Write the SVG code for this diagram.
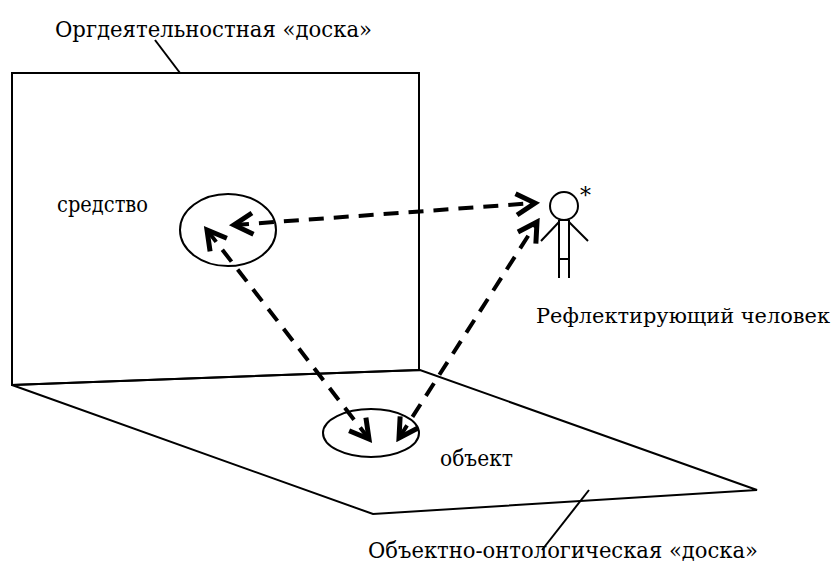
<svg xmlns="http://www.w3.org/2000/svg" width="837" height="567" viewBox="0 0 837 567">
<style>
.ln{fill:none;stroke:#000;stroke-width:2}
.lbl{font-family:'DejaVu Serif','Liberation Serif',serif;font-size:22px;fill:#000}
.dash{fill:none;stroke:#000;stroke-width:4;stroke-dasharray:15 10;marker-start:url(#ah);marker-end:url(#ah)}
</style>
<defs>
<marker id="ah" markerUnits="userSpaceOnUse" markerWidth="30" markerHeight="30" viewBox="-20 -12 24 24" refX="0" refY="0" orient="auto-start-reverse">
<path d="M-15,-8.5 L0,0 L-15,8.5" fill="none" stroke="#000" stroke-width="4" stroke-linejoin="miter"/>
</marker>
</defs>
<rect width="837" height="567" fill="#fff"/>
<g id="board-vertical">
<polygon class="ln" points="12,73 419,73 419,370 12,385"/>
<line class="ln" x1="155" y1="40" x2="180" y2="73"/>
<text class="lbl" x="55" y="37" textLength="317" lengthAdjust="spacingAndGlyphs">Оргдеятельностная «доска»</text>
</g>
<g id="board-horizontal">
<polygon class="ln" points="12,385 420,370 757,490 373,514"/>
<line class="ln" x1="542" y1="550" x2="589" y2="490"/>
<text class="lbl" x="368" y="558" textLength="390" lengthAdjust="spacingAndGlyphs">Объектно-онтологическая «доска»</text>
</g>
<g id="sredstvo">
<ellipse class="ln" cx="228" cy="230" rx="48" ry="36"/>
<text class="lbl" x="57" y="212" textLength="91" lengthAdjust="spacingAndGlyphs">средство</text>
</g>
<g id="obekt">
<ellipse class="ln" cx="371" cy="433" rx="48" ry="24"/>
<text class="lbl" x="440" y="466" textLength="73" lengthAdjust="spacingAndGlyphs">объект</text>
</g>
<g id="chelovek">
<circle class="ln" cx="564" cy="206" r="14"/>
<line class="ln" x1="559" y1="220" x2="569" y2="220"/>
<line class="ln" x1="559" y1="220" x2="559" y2="278"/>
<line class="ln" x1="569" y1="220" x2="569" y2="278"/>
<line class="ln" x1="559" y1="259" x2="569" y2="259"/>
<line class="ln" x1="559" y1="222" x2="541" y2="241"/>
<line class="ln" x1="569" y1="222" x2="588" y2="241"/>
<text class="lbl" x="580" y="203">*</text>
<text class="lbl" x="536" y="323" style="font-size:21px" textLength="294" lengthAdjust="spacingAndGlyphs">Рефлектирующий человек</text>
</g>
<g id="connectors">
<line class="dash" x1="234" y1="225" x2="535" y2="203"/>
<line class="dash" x1="207" y1="230" x2="369" y2="439"/>
<line class="dash" x1="399" y1="438" x2="537" y2="222"/>
</g>
</svg>
